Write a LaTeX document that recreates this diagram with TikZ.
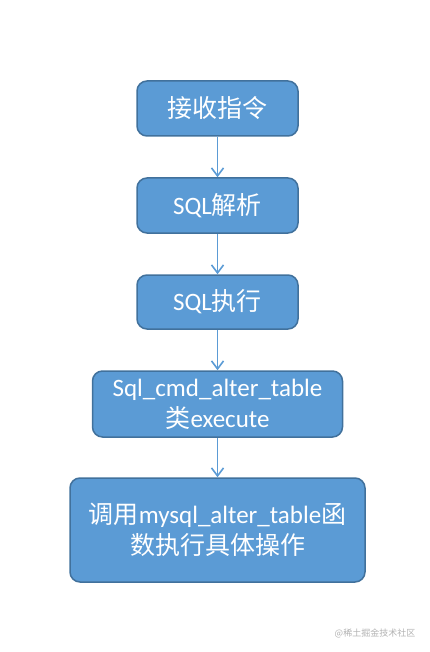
\documentclass[tikz,border=0pt]{standalone}
\usepackage{fontspec}
\setmainfont{Carlito}
\newfontfamily\cjk{Noto Sans CJK SC}
\usetikzlibrary{arrows.meta}
\definecolor{boxfill}{HTML}{5B9BD5}
\definecolor{boxline}{HTML}{41719C}

\begin{document}
\begin{tikzpicture}[x=1pt, y=-1pt,
  flowbox/.style={draw=boxline, line width=1.5pt, fill=boxfill, rounded corners=10pt,
    text=white, align=center, inner sep=0pt, font=\fontsize{25}{31}\selectfont},
  flowarrow/.style={draw=boxfill, line width=1.6pt, -{Straight Barb[length=8pt,width=12pt]}}]
\useasboundingbox (0,0) rectangle (429,652);
% one box per step, top to bottom; centres and sizes in reference pixels
\node[flowbox, minimum width=161pt, minimum height=55pt] (recv) at (217.5,108.5) {{\cjk 接收指令}};
\node[flowbox, minimum width=161pt, minimum height=55pt] (parse) at (217.5,205.5) {SQL{\cjk 解析}};
\node[flowbox, minimum width=161pt, minimum height=54pt] (exec) at (217.5,302) {SQL{\cjk 执行}};
\node[flowbox, minimum width=250pt, minimum height=66pt] (cmd) at (217.5,404) {Sql\_cmd\_alter\_table\\{\cjk 类}execute};
\node[flowbox, minimum width=295pt, minimum height=104pt] (call) at (217.5,530)
  {{\cjk 调用}mysql\_alter\_table{\cjk 函}\\{\cjk 数执行具体操作}};
\foreach \a/\b in {recv/parse, parse/exec, exec/cmd, cmd/call}
  \draw[flowarrow] (\a.south) -- (\b.north);
\node[text=black!30, font=\cjk\fontsize{9}{9}\selectfont] (mark) at (375,633) {@稀土掘金技术社区};
\end{tikzpicture}
\end{document}
